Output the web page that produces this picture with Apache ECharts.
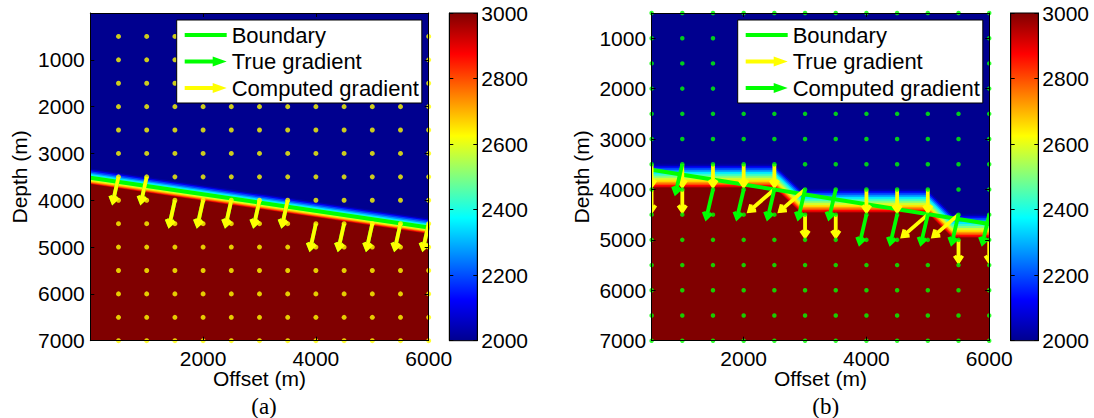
<!DOCTYPE html>
<html>
<head>
<meta charset="utf-8">
<script src="https://cdn.jsdelivr.net/npm/echarts@6/dist/echarts.min.js"></script>
<style>
html, body { margin: 0; padding: 0; background: #ffffff; }
#chart { width: 1094px; height: 418px; }
</style>
</head>
<body>
<div id="chart"></div>
<script>
// ---------------- tick labels ----------------
const offsetTicks = [2000, 4000, 6000];
const depthTicks = [1000, 2000, 3000, 4000, 5000, 6000, 7000];
const velocityTicks = [2000, 2200, 2400, 2600, 2800, 3000];

// ---------------- quiver grid (both panels) ----------------
const gridX = [500, 1000, 1500, 2000, 2500, 3000, 3500, 4000, 4500, 5000, 5500, 6000];
const gridZ = [500, 1000, 1500, 2000, 2500, 3000, 3500, 4000, 4500, 5000, 5500, 6000, 6500, 7000];

// ---------------- panel (a) ----------------
const boundaryXA = [0, 6000];
const boundaryZA = [3520, 4580];
// velocity band around the boundary: offset (m, + = deeper) -> velocity (m/s)
const bandOffsetA = [-8000, -200, -170, -140, -110, -80, -50, -20, 10, 40, 65, 85, 105, 120, 135];
const bandValueA  = [2000, 2020, 2100, 2190, 2270, 2350, 2410, 2470, 2530, 2590, 2660, 2740, 2830, 2910, 3000];
// arrows: [x, z, dx, dz]
const trueGradA = [
  [500, 3500, -100, 540], [1000, 3500, -100, 540],
  [1500, 4000, -100, 540], [2000, 4000, -100, 540], [2500, 4000, -100, 540], [3000, 4000, -100, 540], [3500, 4000, -100, 540],
  [4000, 4500, -100, 540], [4500, 4500, -100, 540], [5000, 4500, -100, 540], [5500, 4500, -100, 540], [6000, 4500, -100, 540]
];
const computedGradA = [
  [500, 3500, -100, 540], [1000, 3500, -100, 540],
  [1500, 4000, -100, 540], [2000, 4000, -100, 540], [2500, 4000, -100, 540], [3000, 4000, -100, 540], [3500, 4000, -100, 540],
  [4000, 4500, -100, 540], [4500, 4500, -100, 540], [5000, 4500, -100, 540], [5500, 4500, -100, 540], [6000, 4500, -100, 540]
];

// ---------------- panel (b) ----------------
const boundaryXB = [500, 6000];
const boundaryZB = [3608, 4687];
const interfaceXB = [500, 2500, 2930, 4990, 5400, 6000];
const interfaceZB = [3960, 3960, 4456, 4456, 4953, 4953];
const bandOffsetB = [-8000, -470, -430, -390, -350, -310, -270, -230, -190, -150, -115, -80, -50, -20, 0];
const bandValueB  = [2000, 2020, 2100, 2190, 2270, 2355, 2430, 2500, 2580, 2650, 2720, 2800, 2870, 2940, 3000];
const trueGradB = [
  [500, 3500, 0, 430], [500, 4000, 0, 430],
  [1000, 3500, 0, 430], [1000, 4000, 0, 430],
  [1500, 3500, 0, 430], [2000, 3500, 0, 430], [2500, 3500, 0, 430],
  [2500, 4000, -410, 430], [3000, 4000, -410, 430],
  [3000, 4500, 0, 430], [3500, 4500, 0, 430],
  [4000, 4000, 0, 430], [4500, 4000, 0, 430], [5000, 4000, 0, 430],
  [5000, 4500, -410, 430], [5500, 4500, -410, 430],
  [5500, 5000, 0, 430], [6000, 5000, 0, 430]
];
const computedGradB = [
  [1000, 3500, -110, 570],
  [1500, 4000, -110, 570], [2000, 4000, -110, 570], [2500, 4000, -110, 570], [3000, 4000, -110, 570], [3500, 4000, -110, 570],
  [4000, 4500, -110, 570], [4500, 4500, -110, 570], [5000, 4500, -110, 570], [5500, 4500, -110, 570], [6000, 4500, -110, 570]
];

// ---------------- styling ----------------
const jet = ['#00008F', '#0000FF', '#0080FF', '#00FFFF', '#80FF80', '#FFFF00', '#FF8000', '#FF0000', '#800000'];
const GREEN = '#00FF00', YELLOW = '#FFFF00';
const FONT = 'Liberation Sans, Arial, Helvetica, sans-serif';
const lineIcon = 'path://M0,0L0,0M0,14L0,14M0,5L42,5L42,9L0,9Z';
const arrowIcon = 'path://M0,0L0,0M0,14L0,14M0,5L28,5L28,2L42,7L28,12L28,9L0,9Z';

const chart = echarts.init(document.getElementById('chart'), null, { renderer: 'svg' });

function axis(o) {
  const base = {
    type: 'value', z: 6, splitLine: { show: false },
    axisLine: { show: true, onZero: false, lineStyle: { color: '#000', width: 1 } },
    axisTick: { show: true, inside: true, length: 4, lineStyle: { color: '#000', width: 1 },
                customValues: o.ticks },
    axisLabel: o.labels ? { show: true, customValues: o.ticks, margin: o.margin, fontSize: 21,
                            fontFamily: FONT, color: '#000', formatter: v => String(v) } : { show: false }
  };
  const res = Object.assign(base, o);
  delete res.ticks; delete res.labels; delete res.margin;
  return res;
}
const nameStyle = { fontSize: 21, fontFamily: FONT, color: '#000' };

function fieldRender(xs, zs, xMin, xMax, zMax) {
  return function (params, api) {
    const off = api.value(0);
    const pts = xs.map((x, i) => api.coord([x, zs[i] + off]));
    pts.push(api.coord([xMax, zMax]), api.coord([xMin, zMax]));
    return { type: 'polygon', shape: { points: pts }, style: { fill: api.visual('color') } };
  };
}
function boundaryRender(xs, zs) {
  return function (params, api) {
    if (params.dataIndex !== 0) return null;
    const pts = xs.map((x, i) => api.coord([x, zs[i]]));
    return { type: 'polyline', shape: { points: pts },
             style: { stroke: api.visual('color'), lineWidth: 4, fill: null } };
  };
}
function arrowRender(params, api) {
  const x = api.value(0), z = api.value(1), u = api.value(2), v = api.value(3);
  const p0 = api.coord([x, z]);
  const p1 = api.coord([x + u, z + v]);
  const ang = Math.atan2(p1[1] - p0[1], p1[0] - p0[0]);
  const h = 7, a = 0.6;
  const b1 = [p1[0] - h * Math.cos(ang - a), p1[1] - h * Math.sin(ang - a)];
  const b2 = [p1[0] - h * Math.cos(ang + a), p1[1] - h * Math.sin(ang + a)];
  const c = api.visual('color');
  return { type: 'group', children: [
    { type: 'line', shape: { x1: p0[0], y1: p0[1], x2: p1[0], y2: p1[1] }, style: { stroke: c, lineWidth: 3.8 } },
    { type: 'polyline', shape: { points: [b1, p1, b2] }, style: { stroke: c, fill: null, lineWidth: 3.8, lineJoin: 'miter' } }
  ] };
}
function colorbarRender(params, api) {
  const p0 = api.coord([0, velocityTicks[velocityTicks.length - 1]]);
  const p1 = api.coord([1, velocityTicks[0]]);
  const stops = jet.map((c, i) => ({ offset: i / (jet.length - 1), color: c }));
  return { type: 'rect', shape: { x: p0[0], y: p0[1], width: p1[0] - p0[0], height: p1[1] - p0[1] },
           style: { fill: new echarts.graphic.LinearGradient(0, 1, 0, 0, stops), stroke: '#000', lineWidth: 1 } };
}

const dots = gridZ.flatMap(z => gridX.map(x => [x, z]));

function legendFor(left, trueColor, compColor) {
  return {
    left: left, top: 20, orient: 'vertical', selectedMode: false,
    backgroundColor: '#fff', borderColor: '#000', borderWidth: 1,
    padding: [4, 3, 4, 8], itemGap: 4.5, itemWidth: 42, itemHeight: 14,
    textStyle: { fontSize: 22, fontFamily: FONT, color: '#000', lineHeight: 22 },
    data: [
      { name: 'Boundary', icon: lineIcon, itemStyle: { color: GREEN, borderWidth: 0 } },
      { name: 'True gradient', icon: arrowIcon, itemStyle: { color: trueColor, borderWidth: 0 } },
      { name: 'Computed gradient', icon: arrowIcon, itemStyle: { color: compColor, borderWidth: 0 } }
    ]
  };
}

const option = {
  animation: false,
  backgroundColor: '#fff',
  grid: [
    { left: 90.3, top: 13, width: 338.4, height: 327.7, outerBoundsMode: 'none' },
    { left: 651.6, top: 13, width: 337.6, height: 327.7, outerBoundsMode: 'none' },
    { left: 449.3, top: 13, width: 28, height: 327.7, outerBoundsMode: 'none' },
    { left: 1010.7, top: 13, width: 27.6, height: 327.7, outerBoundsMode: 'none' }
  ],
  xAxis: [
    axis({ gridIndex: 0, position: 'bottom', min: 0, max: 6000, ticks: offsetTicks, labels: true, margin: 7,
           name: 'Offset (m)', nameLocation: 'middle', nameGap: 27, nameMoveOverlap: false, nameTextStyle: nameStyle }),
    axis({ gridIndex: 0, position: 'top', min: 0, max: 6000, ticks: offsetTicks }),
    axis({ gridIndex: 1, position: 'bottom', min: 500, max: 6000, ticks: offsetTicks, labels: true, margin: 7,
           name: 'Offset (m)', nameLocation: 'middle', nameGap: 27, nameMoveOverlap: false, nameTextStyle: nameStyle }),
    axis({ gridIndex: 1, position: 'top', min: 500, max: 6000, ticks: offsetTicks }),
    { type: 'value', gridIndex: 2, min: 0, max: 1, show: false },
    { type: 'value', gridIndex: 3, min: 0, max: 1, show: false }
  ],
  yAxis: [
    axis({ gridIndex: 0, position: 'left', inverse: true, min: 0, max: 7000, ticks: depthTicks, labels: true, margin: 5.5,
           name: 'Depth (m)', nameLocation: 'middle', nameGap: 60, nameRotate: 90, nameTextStyle: nameStyle }),
    axis({ gridIndex: 0, position: 'right', inverse: true, min: 0, max: 7000, ticks: depthTicks }),
    axis({ gridIndex: 1, position: 'left', inverse: true, min: 500, max: 7000, ticks: depthTicks, labels: true, margin: 5.5,
           name: 'Depth (m)', nameLocation: 'middle', nameGap: 60, nameRotate: 90, nameTextStyle: nameStyle }),
    axis({ gridIndex: 1, position: 'right', inverse: true, min: 500, max: 7000, ticks: depthTicks }),
    axis({ gridIndex: 2, position: 'right', min: 2000, max: 3000, ticks: velocityTicks, labels: true, margin: 4 }),
    axis({ gridIndex: 2, position: 'left', min: 2000, max: 3000, ticks: velocityTicks }),
    axis({ gridIndex: 3, position: 'right', min: 2000, max: 3000, ticks: velocityTicks, labels: true, margin: 4 }),
    axis({ gridIndex: 3, position: 'left', min: 2000, max: 3000, ticks: velocityTicks })
  ],
  visualMap: [{
    type: 'continuous', show: false, min: 2000, max: 3000, dimension: 1,
    seriesIndex: [0, 1], inRange: { color: jet }
  }],
  legend: [legendFor(176.7, GREEN, YELLOW), legendFor(737.7, YELLOW, GREEN)],
  series: [
    { type: 'custom', clip: true, xAxisIndex: 0, yAxisIndex: 0, renderItem: fieldRender(boundaryXA, boundaryZA, 0, 6000, 7000),
      data: bandOffsetA.map((o, i) => [o, bandValueA[i]]) },
    { type: 'custom', clip: true, xAxisIndex: 2, yAxisIndex: 2, renderItem: fieldRender(interfaceXB, interfaceZB, 500, 6000, 7000),
      data: bandOffsetB.map((o, i) => [o, bandValueB[i]]) },
    { type: 'custom', xAxisIndex: 4, yAxisIndex: 4, renderItem: colorbarRender, data: [[0, 2000]] },
    { type: 'custom', xAxisIndex: 5, yAxisIndex: 6, renderItem: colorbarRender, data: [[0, 2000]] },

    { name: 'Boundary', type: 'custom', clip: true, xAxisIndex: 0, yAxisIndex: 0, itemStyle: { color: GREEN },
      renderItem: boundaryRender(boundaryXA, boundaryZA), data: boundaryXA.map((x, i) => [x, boundaryZA[i]]) },
    { name: 'True gradient', type: 'custom', clip: true, xAxisIndex: 0, yAxisIndex: 0, itemStyle: { color: GREEN },
      renderItem: arrowRender, data: trueGradA },
    { name: 'Computed gradient', type: 'custom', clip: true, xAxisIndex: 0, yAxisIndex: 0, itemStyle: { color: YELLOW },
      renderItem: arrowRender, data: computedGradA },
    { type: 'scatter', xAxisIndex: 0, yAxisIndex: 0, symbolSize: 5, itemStyle: { color: YELLOW }, data: dots, z: 3 },

    { name: 'Boundary', type: 'custom', clip: true, xAxisIndex: 2, yAxisIndex: 2, itemStyle: { color: GREEN },
      renderItem: boundaryRender(boundaryXB, boundaryZB), data: boundaryXB.map((x, i) => [x, boundaryZB[i]]) },
    { name: 'True gradient', type: 'custom', clip: true, xAxisIndex: 2, yAxisIndex: 2, itemStyle: { color: YELLOW },
      renderItem: arrowRender, data: trueGradB },
    { name: 'Computed gradient', type: 'custom', clip: true, xAxisIndex: 2, yAxisIndex: 2, itemStyle: { color: GREEN },
      renderItem: arrowRender, data: computedGradB },
    { type: 'scatter', xAxisIndex: 2, yAxisIndex: 2, symbolSize: 4.5, itemStyle: { color: GREEN }, data: dots, z: 3 }
  ],
  graphic: [
    { type: 'text', x: 264, y: 406, style: { text: '(a)', align: 'center', verticalAlign: 'middle',
      fontSize: 23, fontFamily: 'Liberation Serif, Times New Roman, serif', fill: '#000' } },
    { type: 'text', x: 825.7, y: 406, style: { text: '(b)', align: 'center', verticalAlign: 'middle',
      fontSize: 23, fontFamily: 'Liberation Serif, Times New Roman, serif', fill: '#000' } }
  ]
};
chart.setOption(option);
</script>
</body>
</html>
